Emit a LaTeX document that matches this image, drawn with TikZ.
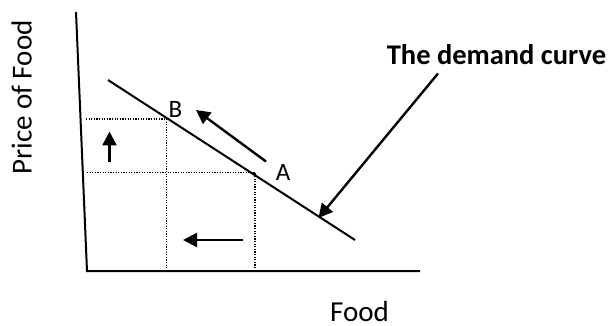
\documentclass[tikz,border=0pt]{standalone}
\usepackage{fontspec}
\setmainfont{Carlito}
\usetikzlibrary{arrows.meta}
\begin{document}
\begin{tikzpicture}[x=1pt,y=-1pt,
  axis/.style={line width=2pt},
  guide/.style={line width=1.4pt, dash pattern=on 1.2pt off 1.4pt},
  mover/.style={line width=2.4pt, -{Triangle[length=14pt,width=14pt]}},
  lbl/.style={font=\fontsize{29}{34}\selectfont, inner sep=0pt, anchor=base},
  pt/.style={font=\fontsize{25}{30}\selectfont, inner sep=0pt, anchor=base}]
\useasboundingbox (0,0) rectangle (611,326);
% axes
\coordinate (ytop) at (76,12);
\coordinate (origin) at (87,271);
\coordinate (xend) at (420,271);
\draw[axis] (ytop) -- (origin) -- (xend);
% demand curve
\coordinate (d1) at (108,80);
\coordinate (d2) at (355,240);
\draw[axis] (d1) -- (d2);
% points
\coordinate (B) at (166.5,119);
\coordinate (A) at (255,172.5);
\coordinate (By) at (86,119);
\coordinate (Ay) at (87,172.5);
\coordinate (Bx) at (166.5,271);
\coordinate (Ax) at (255,271);
\draw[guide] (By) -- (B) -- (Bx);
\draw[guide] (Ay) -- (A) -- (Ax);
% labels
\node[pt] (lB) at (175.5,117.3) {B};
\node[pt] (lA) at (283,181) {A};
% arrows
\coordinate (m1) at (266,161.5);
\coordinate (m2) at (196,110);
\draw[mover] (m1) -- (m2);
\coordinate (u1) at (109.5,162.5);
\coordinate (u2) at (109.5,131.5);
\draw[mover] (u1) -- (u2);
\coordinate (l1) at (243,240);
\coordinate (l2) at (183,240);
\draw[mover] (l1) -- (l2);
\node[lbl, font=\fontsize{28.5}{34}\selectfont\bfseries] (title) at (496.5,65) {The demand curve};
\coordinate (p1) at (438,73.5);
\coordinate (p2) at (318.5,218);
\draw[mover] (p1) -- (p2);
\node[lbl, rotate=90] (ylab) at (31.7,97.5) {Price of Food};
\node[lbl] (xlab) at (359.5,321) {Food};
\end{tikzpicture}
\end{document}
